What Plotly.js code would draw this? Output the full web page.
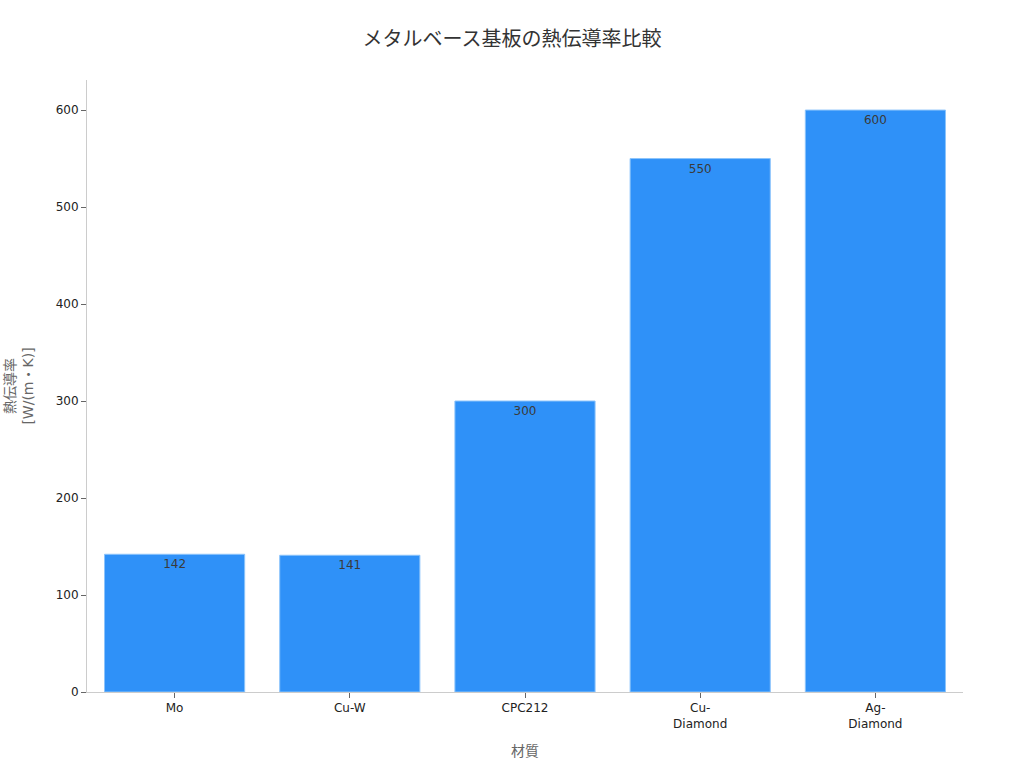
<!DOCTYPE html>
<html><head><meta charset="utf-8">
<script src="https://cdn.plot.ly/plotly-3.0.1.min.js"></script>
<style>html,body{margin:0;padding:0;background:#fff;}#chart{width:1024px;height:768px;}</style>
</head><body><div id="chart"></div>
<script>
const categories = ["Mo", "Cu-W", "CPC212", "Cu-<br>Diamond", "Ag-<br>Diamond"];
const conductivity = [142, 141, 300, 550, 600];
const yTicks = [0, 100, 200, 300, 400, 500, 600];

const font = "DejaVu Sans, Noto Sans CJK JP, sans-serif";
Plotly.newPlot("chart", [{
  type: "bar",
  x: categories,
  y: conductivity,
  text: conductivity.map(String),
  textposition: "inside",
  insidetextanchor: "end",
  textfont: {family: font, size: 12, color: "#3a3a3a"},
  marker: {color: "#2f91f8", line: {color: "#8cc4fb", width: 1}},
  hoverinfo: "skip"
}], {
  width: 1024, height: 768,
  paper_bgcolor: "#ffffff", plot_bgcolor: "#ffffff",
  font: {family: font, color: "#222222", size: 12},
  title: {text: "メタルベース基板の熱伝導率比較", x: 0.5, xanchor: "center", y: 0.958, font: {family: font, size: 20, color: "#333333"}},
  margin: {l: 87, r: 61, t: 80, b: 76},
  bargap: 0.2,
  showlegend: false,
  xaxis: {
    title: {text: "材質", font: {size: 14, color: "#666666"}, standoff: 16},
    showline: true, linecolor: "#cccccc", linewidth: 1,
    ticks: "outside", ticklen: 5, tickcolor: "#666666",
    showgrid: false, zeroline: false,
    tickfont: {size: 12, color: "#222222"}
  },
  yaxis: {
    title: {text: "熱伝導率<br>[W/(m・K)]", font: {size: 14, color: "#666666"}, standoff: 18},
    range: [0, 631],
    tickvals: yTicks,
    showline: true, linecolor: "#cccccc", linewidth: 1,
    ticks: "outside", ticklen: 5, tickcolor: "#666666",
    showgrid: false, zeroline: false,
    tickfont: {size: 12, color: "#222222"}
  }
}, {displayModeBar: false, staticPlot: true});
</script></body></html>
